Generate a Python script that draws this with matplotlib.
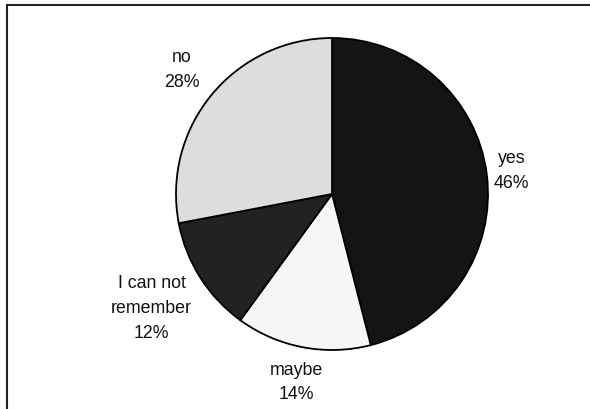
import matplotlib
matplotlib.use("Agg")
import matplotlib.pyplot as plt
import numpy as np

# survey answers, clockwise from 12 o'clock
labels = ["yes", "maybe", "I can not\nremember", "no"]
shares = [46, 14, 12, 28]
colors = ["#141414", "#f6f6f6", "#222222", "#dddddd"]
label_dist = [1.16, 1.23, 1.37, 1.25]

W, H = 590, 409
CX, CY, R = 332, H - 194, 156


def main():
    plt.rcParams["font.family"] = ["Liberation Sans", "DejaVu Sans"]
    fig = plt.figure(figsize=(W / 100, H / 100), dpi=100)
    ax = fig.add_axes([0, 0, 1, 1])

    wedges, _ = ax.pie(shares, colors=colors, startangle=90, counterclock=False,
                       center=(CX, CY), radius=R, frame=True,
                       wedgeprops=dict(edgecolor="black", linewidth=1.3))

    for w, lab, pct, d in zip(wedges, labels, shares, label_dist):
        mid = np.deg2rad((w.theta1 + w.theta2) / 2)
        x = CX + d * R * np.cos(mid)
        y = CY + d * R * np.sin(mid)
        ax.text(x, y, "%s\n%d%%" % (lab, pct), ha="center", va="center",
                fontsize=12.8, linespacing=1.6, color="#111111")

    ax.set_xlim(0, W)
    ax.set_ylim(0, H)
    ax.axis("off")

    # chart border (only top and left edges are visible in the crop)
    ax.plot([7, 7, W], [0, H - 5, H - 5], color="#222222", linewidth=1.5,
            clip_on=False, solid_joinstyle="miter")

    fig.savefig("out.png", dpi=100)
    plt.close(fig)


if __name__ == "__main__":
    main()
